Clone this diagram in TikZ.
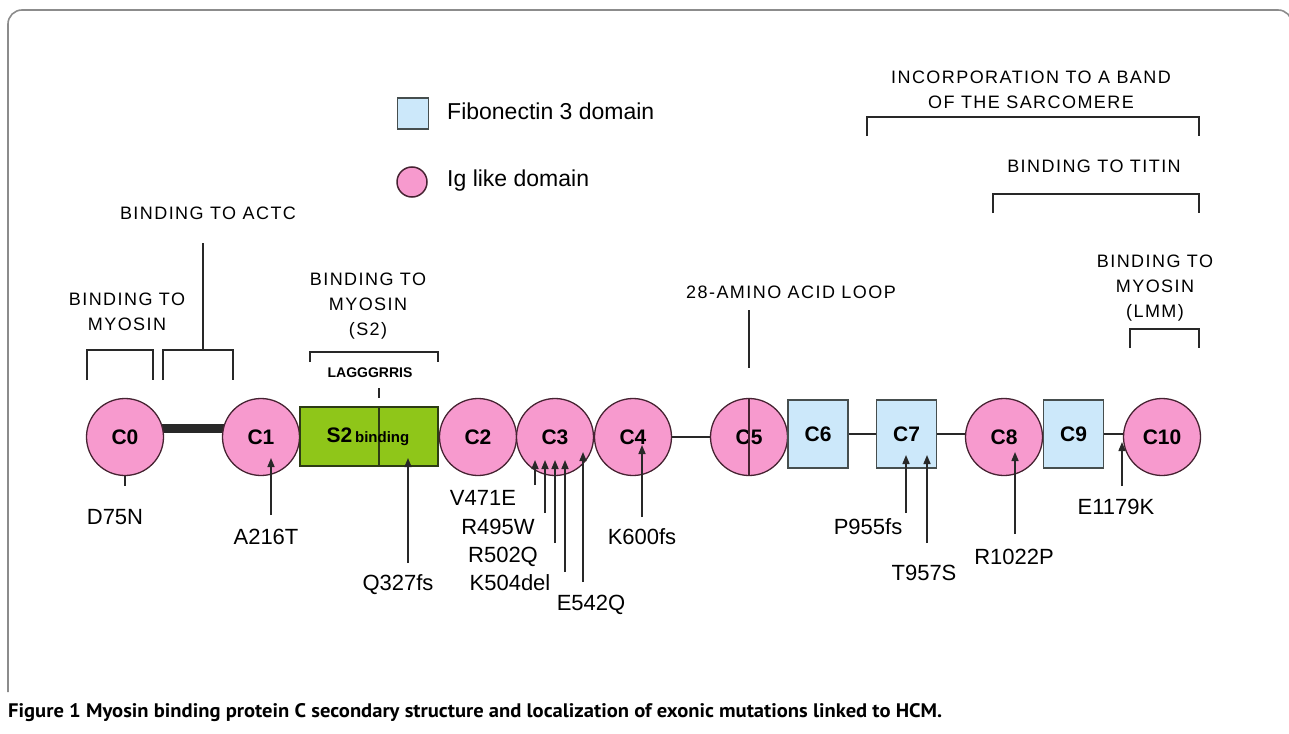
\documentclass[tikz,border=0pt]{standalone}
\usepackage{graphicx}
\usepackage{fontspec}
\setmainfont{Liberation Sans}
\newfontfamily\capfont{PT Sans}
\usetikzlibrary{arrows.meta}
\pgfdeclarelayer{bg}
\pgfsetlayers{bg,main}
\definecolor{igpink}{RGB}{247,154,206}
\definecolor{igedge}{RGB}{70,35,50}
\definecolor{fnblue}{RGB}{204,232,250}
\definecolor{fnedge}{RGB}{70,78,78}
\definecolor{sgreen}{RGB}{143,198,25}
\definecolor{sedge}{RGB}{45,60,20}
\definecolor{linec}{RGB}{40,40,40}
\definecolor{framegray}{RGB}{140,140,140}
\begin{document}
\begin{tikzpicture}[x=1pt,y=-1pt,
  ig/.style={circle,draw=igedge,line width=1.3pt,fill=igpink,minimum size=77pt,inner sep=0pt,font=\bfseries\fontsize{21}{21}\selectfont},
  fn/.style={rectangle,draw=fnedge,line width=1.8pt,fill=fnblue,minimum width=60pt,minimum height=68pt,inner sep=0pt,font=\bfseries\fontsize{21}{21}\selectfont},
  region/.style={align=center,inner sep=0pt,font=\fontsize{18}{25}\selectfont\addfontfeature{LetterSpace=8}},
  mut/.style={inner sep=0pt,font=\fontsize{22}{22}\selectfont},
  legtext/.style={inner sep=0pt,anchor=base west,font=\fontsize{23}{23}\selectfont},
  bracket/.style={draw=linec,line width=1.4pt},
  link/.style={draw=linec,line width=1.4pt},
  mutarrow/.style={draw=linec,line width=1.5pt,-{Triangle[length=9pt,width=7pt]}}
]
\useasboundingbox (0,0) rectangle (1289,733);
% frame
\draw[framegray,line width=1.6pt,rounded corners=14pt] (8,692) -- (8,10) -- (1292,10) -- (1292,60);

% legend
\node[rectangle,draw=fnedge,line width=1.8pt,fill=fnblue,minimum size=31pt,inner sep=0pt] (legfn) at (413,113.5) {};
\node[legtext] (legfntext) at (447,120) {Fibonectin 3 domain};
\node[circle,draw=igedge,line width=1.5pt,fill=igpink,minimum size=30pt,inner sep=0pt] (legig) at (412,182) {};
\node[legtext] (legigtext) at (447,186) {Ig like domain};

% domains
\node[ig] (c0) at (125,437) {C0};
\node[ig] (c1) at (261,437) {C1};
\node[rectangle,draw=sedge,line width=1.5pt,fill=sgreen,minimum width=138pt,minimum height=59pt,inner sep=0pt] (s2) at (369,436.5) {};
\draw[draw=sedge,line width=1.3pt] (379,407) -- (379,466);
\node[inner sep=0pt] (s2text) at (368,437) {{\bfseries\fontsize{21}{21}\selectfont S2} {\bfseries\fontsize{15}{15}\selectfont binding}};
\node[ig] (c2) at (478,437) {C2};
\node[ig] (c3) at (555,437) {C3};
\node[ig] (c4) at (633,437) {C4};
\node[ig] (c5) at (749,437) {C5};
\draw[draw=igedge,line width=1.3pt] (c5.north) -- (c5.south);
\node[fn] (c6) at (818,434) {C6};
\node[fn] (c7) at (906.5,434) {C7};
\node[ig] (c8) at (1004,437) {C8};
\node[fn] (c9) at (1073.5,434) {C9};
\node[ig] (c10) at (1162,437) {C10};

% linkers
\begin{pgfonlayer}{bg}
\draw[linec,line width=9pt] ([yshift=9pt]c0.center) -- ([yshift=9pt]c1.center);
\draw[link] (c4) -- (c5);
\draw[link] (c6) -- (c7);
\draw[link] (c7) -- (c7 -| c8);
\draw[link] (c9) -- (c9 -| c10);
\end{pgfonlayer}

% region labels and brackets
\node[region] (myo1) at (127,311.5) {BINDING TO\\MYOSIN};
\draw[bracket] (87,380) -- (87,350) -- (153,350) -- (153,380);
\node[region] (actc) at (208,213) {BINDING TO ACTC};
\draw[bracket] (163,380) -- (163,350) -- (233,350) -- (233,380);
\coordinate (actcstem) at (203,243);
\draw[bracket] (actcstem) -- (203,350);
\node[region] (myos2) at (368,306) {BINDING TO\\MYOSIN\\(S2)};
\draw[bracket] (310,362) -- (310,352) -- (438,352) -- (438,362);
\node[inner sep=0pt,font=\bfseries\fontsize{14}{14}\selectfont] (lag) at (370,373) {LAGGGRRIS};
\draw[bracket] (379,388) -- (379,398);
\node[region] (loop) at (791,292) {28-AMINO ACID LOOP};
\coordinate (looptop) at (749,310);
\draw[bracket] (looptop) -- (749,368);
\node[region] (aband) at (1031,89.5) {INCORPORATION TO A BAND\\OF THE SARCOMERE};
\draw[bracket] (867,136) -- (867,117) -- (1199,117) -- (1199,136);
\node[region] (titin) at (1094,166) {BINDING TO TITIN};
\draw[bracket] (993,213) -- (993,194) -- (1199,194) -- (1199,213);
\node[region] (lmm) at (1155,288) {BINDING TO\\MYOSIN\\(LMM)};
\draw[bracket] (1130,348) -- (1130,329) -- (1199,329) -- (1199,348);

% mutations
\node[mut] (d75n) at (115,517) {D75N};
\draw[bracket] (c0.south) -- (125,486);
\node[mut] (a216t) at (266,537) {A216T};
\draw[mutarrow] (271,515) -- (271,458);
\node[mut] (q327fs) at (398,585) {Q327fs};
\draw[mutarrow] (408,563) -- (408,458);
\node[mut] (v471e) at (483,498) {V471E};
\draw[mutarrow] (535,485) -- (535,460);
\node[mut] (r495w) at (498,527) {R495W};
\draw[mutarrow] (545,513) -- (545,460);
\node[mut] (r502q) at (503,557) {R502Q};
\draw[mutarrow] (555,543) -- (555,460);
\node[mut] (k504del) at (510,583) {K504del};
\draw[mutarrow] (565,572) -- (565,460);
\node[mut] (e542q) at (591,605) {E542Q};
\draw[mutarrow] (583,582) -- (583,452);
\node[mut] (k600fs) at (642,537) {K600fs};
\draw[mutarrow] (642,517) -- (642,445);
\node[mut] (p955fs) at (868,527) {P955fs};
\draw[mutarrow] (906,513) -- (906,455);
\node[mut] (t957s) at (924,573) {T957S};
\draw[mutarrow] (927,543) -- (927,455);
\node[mut] (r1022p) at (1014,557) {R1022P};
\draw[mutarrow] (1015,534) -- (1015,452);
\node[mut] (e1179k) at (1116,507) {E1179K};
\draw[mutarrow] (1122,486) -- (1122,442);

% caption
\node[anchor=west,inner sep=0pt] (caption) at (8,713) {\resizebox{934pt}{14pt}{\capfont\bfseries Figure 1 Myosin binding protein C secondary structure and localization of exonic mutations linked to HCM.}};
\end{tikzpicture}
\end{document}
